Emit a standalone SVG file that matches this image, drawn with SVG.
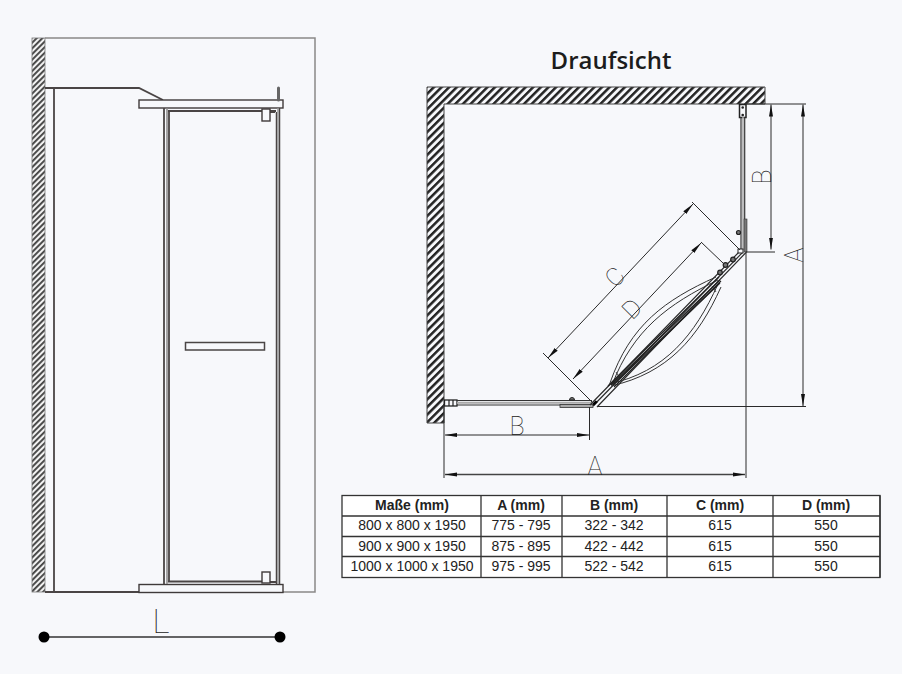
<svg xmlns="http://www.w3.org/2000/svg" width="902" height="674" viewBox="0 0 902 674">
<style>
.l{fill:none;stroke:#3f3a3a;stroke-width:1.2}
.m{fill:none;stroke:#4a4545;stroke-width:1.8}
.g{fill:none;stroke:#8a8888;stroke-width:1.5}
.d{fill:none;stroke:#2a2a2a;stroke-width:1}
.p{fill:#f7f8fb;stroke:#3f3a3a;stroke-width:1.4}
.k{fill:#777;stroke:#222;stroke-width:1.2}
.dim{font-family:"Roboto","Liberation Sans",sans-serif;font-weight:100;fill:#222;font-size:25px;text-anchor:middle}
.t{font-family:"Liberation Sans",Arial,sans-serif;font-size:14px;fill:#222;text-anchor:middle}
.b{font-weight:bold}
.c{fill:none;stroke:#333;stroke-width:1}
.tl{fill:none;stroke:#333;stroke-width:1.3}
</style>
<defs>
<pattern id="h1" width="4" height="4" patternUnits="userSpaceOnUse" patternTransform="rotate(45)"><rect width="4" height="4" fill="#f2f2f2"/><rect width="1.9" height="4" fill="#444"/></pattern>
<pattern id="h2" width="5.4" height="5.4" patternUnits="userSpaceOnUse" patternTransform="rotate(45)"><rect width="5.4" height="5.4" fill="#f7f8fb"/><rect width="2.5" height="5.4" fill="#222"/></pattern>
<marker id="a" markerWidth="12" markerHeight="6" refX="12" refY="3" orient="auto-start-reverse" markerUnits="userSpaceOnUse"><path d="M0 1 L12 3 L0 5 Z" fill="#111"/></marker>
</defs>
<rect width="902" height="674" fill="#f7f8fb"/>

<g id="side-view">
<rect x="32" y="38" width="13" height="554" fill="url(#h1)" stroke="#777" stroke-width="0.8"/>
<path class="g" d="M45 38H315V592H45" stroke="#888"/>
<path class="m" d="M45 88H139L163 100M54 88V592M45 592H139"/>
<rect class="p" x="139" y="100" width="144" height="8"/>
<rect class="p" x="139" y="584.5" width="144" height="8"/>
<path class="m" d="M164 108V584M169 112V582M168 111H276M168 581.500H264"/>
<path d="M167 108V584" class="g"/>
<path d="M276.500 112V584" stroke="#4a4545" stroke-width="1.500" fill="none"/>
<path d="M279.500 108V584" stroke="#4a4545" stroke-width="1.500" fill="none"/>
<path d="M278 108V584" stroke="#999" stroke-width="1.500" fill="none"/>
<path d="M278.500 88V100" stroke="#666" stroke-width="3" stroke-linecap="round" fill="none"/>
<path class="m" d="M270 112H275M270 582H276"/>
<rect class="p" x="262" y="109" width="8" height="12"/>
<rect class="p" x="262" y="572" width="8" height="11"/>
<rect x="185.500" y="342.500" width="79" height="7.500" fill="#f7f8fb" stroke="#4a4545" stroke-width="1.500"/>
</g>

<g id="dimension-L">
<path d="M44 637H280" stroke="#333" stroke-width="1.500" fill="none"/>
<circle cx="44" cy="637" r="5.500" fill="#000"/>
<circle cx="280" cy="637" r="5.500" fill="#000"/>
<text class="dim" x="161" y="633" style="font-size:33px">L</text>
</g>

<g id="title"><text x="611" y="69" font-family="'Open Sans','Noto Sans',sans-serif" font-weight="600" font-size="24" fill="#1c1c1c" text-anchor="middle">Draufsicht</text></g>

<g id="walls">
<path d="M427 87H765V104H444V423H427Z" fill="url(#h2)" stroke="#444" stroke-width="1"/>
</g>

<g id="right-panel">
<rect x="739.500" y="104.500" width="6.500" height="13" fill="#f7f8fb" stroke="#222" stroke-width="1.500"/>
<circle cx="742.700" cy="107.500" r="1.300" fill="#222"/><circle cx="742.700" cy="115" r="1.300" fill="#222"/>
<path d="M741 117V250" stroke="#333" stroke-width="1.200" fill="none"/>
<path d="M744.700 117V252" stroke="#333" stroke-width="1.200" fill="none"/>
<path d="M743 117V250" stroke="#aaa" stroke-width="1.500" fill="none"/>
<rect x="744" y="219" width="3" height="33" fill="#777" stroke="#333" stroke-width="0.600"/>
<circle class="k" cx="738.500" cy="232.500" r="2"/>
</g>

<g id="front-panel">
<rect x="444.500" y="400" width="12.500" height="6" fill="#f7f8fb" stroke="#222" stroke-width="1.300"/>
<path d="M449 400V406M453 400V406" stroke="#222" stroke-width="1.200"/>
<path d="M457 400.500H592M457 405H592" stroke="#333" stroke-width="1.100" fill="none"/>
<path d="M457 402.700H592" stroke="#aaa" stroke-width="2" fill="none"/>
<rect x="560" y="404.500" width="33" height="3" fill="#aaa" stroke="#333" stroke-width="0.800"/>
<path d="M569.500 400a2.500 2.500 0 0 1 5 0z" fill="#777" stroke="#222"/>
</g>

<g id="folding-panel">
<path d="M590 405L741 250M593 406L743 252M597 407L746.500 252" stroke="#2c2c2c" stroke-width="1.200" fill="none"/>
<path d="M594 402L596 404" stroke="#000" stroke-width="5"/>
<path d="M610 383C630 325 665 300 716 277M612 385C633 330 668 304 718 280" class="c"/>
<path d="M609 384C665 372 695 335 718 284M611 386C668 373 698 338 721 287" class="c"/>
<path d="M608 386L719 277M611 385L720 280M613 385L720 283" stroke="#222" stroke-width="1.300" fill="none"/>
<path d="M614 387L721 281" stroke="#222" stroke-width="1.100" fill="none"/>
<path d="M616 372L620 378M712 286L716 292" stroke="#222" stroke-width="0.800" fill="none"/>
<circle class="k" cx="720" cy="272.500" r="2.300"/>
<circle class="k" cx="725.500" cy="265" r="2.300"/>
<circle class="k" cx="733" cy="259.500" r="2.300"/>
<rect x="738" y="249" width="5" height="4" fill="#f7f8fb" stroke="#222" stroke-width="1"/>
</g>

<g id="connectors">
<path class="d" d="M746 252H775" stroke-width="1.500"/>
<path class="d" d="M746 104H806M597 406.500H806M746 253V478M444 404V478M589.500 407V440"/>
<path class="d" d="M771 104.500V249.500" marker-start="url(#a)" marker-end="url(#a)"/>
<path class="d" d="M803 104.500V406" marker-start="url(#a)" marker-end="url(#a)"/>
<path class="d" d="M445 435H589" marker-start="url(#a)" marker-end="url(#a)"/>
<path d="M445 474.500H745" marker-start="url(#a)" marker-end="url(#a)" stroke="#444" stroke-width="1.300" fill="none"/>
<path class="d" d="M543 353L592 402M692 202L740 250M701 242L723 263"/>
<path class="d" d="M548 358L693 204" marker-start="url(#a)" marker-end="url(#a)"/>
<path class="d" d="M573 379L701 243" marker-start="url(#a)" marker-end="url(#a)"/>
<text class="dim" transform="translate(771 177) rotate(-90)">B</text>
<text class="dim" transform="translate(803 255) rotate(-90)">A</text>
<text class="dim" x="517" y="435">B</text>
<text class="dim" x="595" y="475">A</text>
<text class="dim" transform="translate(621 283) rotate(-45)">C</text>
<text class="dim" transform="translate(638 315) rotate(-45)">D</text>
</g>

<g id="table">
<rect x="342" y="495.500" width="538" height="82" fill="#fff" stroke="#333" stroke-width="1.300"/>
<path class="tl" d="M342 516H880M342 536.500H880M342 556.500H880M481 495.500V577.500M562 495.500V577.500M667 495.500V577.500M773 495.500V577.500M880 495.500V577.500"/>
<g class="t b">
<text x="412" y="510">Maße (mm)</text><text x="521" y="510">A (mm)</text><text x="614" y="510">B (mm)</text><text x="720" y="510">C (mm)</text><text x="826" y="510">D (mm)</text>
</g>
<g class="t">
<text x="412" y="530">800 x 800 x 1950</text><text x="521" y="530">775 - 795</text><text x="614" y="530">322 - 342</text><text x="720" y="530">615</text><text x="826" y="530">550</text>
<text x="412" y="551">900 x 900 x 1950</text><text x="521" y="551">875 - 895</text><text x="614" y="551">422 - 442</text><text x="720" y="551">615</text><text x="826" y="551">550</text>
<text x="412" y="571">1000 x 1000 x 1950</text><text x="521" y="571">975 - 995</text><text x="614" y="571">522 - 542</text><text x="720" y="571">615</text><text x="826" y="571">550</text>
</g>
</g>
</svg>
